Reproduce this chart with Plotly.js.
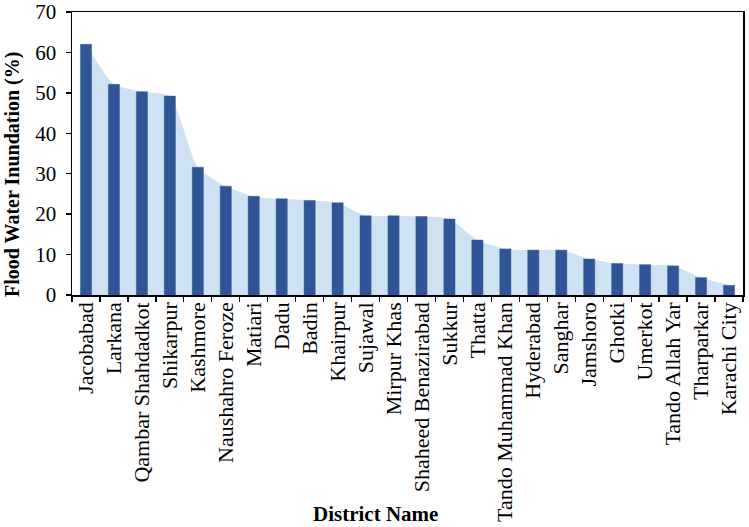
<!DOCTYPE html>
<html>
<head>
<meta charset="utf-8">
<script src="https://cdn.plot.ly/plotly-3.0.1.min.js"></script>
<style>
  html, body { margin: 0; padding: 0; background: #ffffff; }
  #chart { width: 749px; height: 527px; }
</style>
</head>
<body>
<div id="chart"></div>
<script>
// District names, sorted by inundated share
const districts = [
  "Jacobabad", "Larkana", "Qambar Shahdadkot", "Shikarpur", "Kashmore",
  "Naushahro Feroze", "Matiari", "Dadu", "Badin", "Khairpur", "Sujawal",
  "Mirpur Khas", "Shaheed Benazirabad", "Sukkur", "Thatta",
  "Tando Muhammad Khan", "Hyderabad", "Sanghar", "Jamshoro", "Ghotki",
  "Umerkot", "Tando Allah Yar", "Tharparkar", "Karachi City"
];

// Flood water inundation (%)
const inundation = [
  62.0, 52.1, 50.3, 49.2, 31.6,
  26.9, 24.4, 23.8, 23.4, 22.8, 19.6,
  19.6, 19.4, 18.8, 13.6,
  11.4, 11.1, 11.1, 8.9, 7.8,
  7.5, 7.2, 4.3, 2.4
];

const yTicks = [0, 10, 20, 30, 40, 50, 60, 70];

const FONT = "Liberation Serif, Times New Roman, serif";

// light area behind the bars (main subplot, drawn first)
let area = {
  x: districts, y: inundation, xaxis: 'x', yaxis: 'y',
  type: 'scatter', mode: 'lines', fill: 'tozeroy',
  line: {shape: 'spline', smoothing: 0.6, color: 'rgba(0,0,0,0)', width: 0},
  fillcolor: '#cfe2f3', hoverinfo: 'skip', showlegend: false
};

// bars on an overlaying subplot so they sit above the area
let bars = {
  x: districts, y: inundation, xaxis: 'x2', yaxis: 'y2',
  type: 'bar', width: 0.4,
  marker: {color: '#2f5597', line: {color: '#3d63a5', width: 0.5}},
  showlegend: false
};

let catRange = [-0.5, districts.length - 0.5];

let layout = {
  width: 749, height: 527,
  margin: {l: 72, r: 6, t: 12, b: 232},
  paper_bgcolor: '#ffffff', plot_bgcolor: '#ffffff',
  font: {family: FONT, size: 20, color: '#000000'},
  showlegend: false,
  xaxis: {
    type: 'category', tickangle: -90,
    tickmode: 'array', tickvals: districts, ticktext: districts,
    showline: true, linecolor: '#000000', linewidth: 1.5, mirror: true,
    ticks: 'outside', ticklen: 5, tickcolor: '#000000', tickwidth: 1.3,
    tickson: 'boundaries', showgrid: false, zeroline: false,
    tickfont: {family: FONT, size: 22, color: '#000000'},
    ticklabelstandoff: -3,
    range: catRange, fixedrange: true
  },
  yaxis: {
    range: [0, 70], tickvals: yTicks, ticktext: yTicks.map(String),
    showline: true, linecolor: '#000000', linewidth: 1.5, mirror: true,
    ticks: 'outside', ticklen: 5, tickcolor: '#000000', tickwidth: 1.3,
    showgrid: false, zeroline: false,
    tickfont: {family: FONT, size: 21, color: '#000000'},
    ticklabelstandoff: 5, fixedrange: true
  },
  xaxis2: {
    type: 'category', overlaying: 'x', range: catRange,
    visible: false, fixedrange: true
  },
  yaxis2: {
    overlaying: 'y', range: [0, 70], visible: false, fixedrange: true
  },
  annotations: [
    {
      text: '<b>Flood Water Inundation (%)</b>', textangle: -90,
      xref: 'paper', yref: 'paper', x: 0, y: 0.424,
      xanchor: 'center', yanchor: 'middle', xshift: -60,
      showarrow: false, font: {family: FONT, size: 20, color: '#000000'}
    },
    {
      text: '<b>District Name</b>',
      xref: 'paper', yref: 'paper', x: 0.452, y: 0,
      xanchor: 'center', yanchor: 'middle', yshift: -219,
      showarrow: false, font: {family: FONT, size: 21, color: '#000000'}
    }
  ]
};

Plotly.newPlot('chart', [area, bars], layout, {displayModeBar: false, staticPlot: true});
</script>
</body>
</html>
